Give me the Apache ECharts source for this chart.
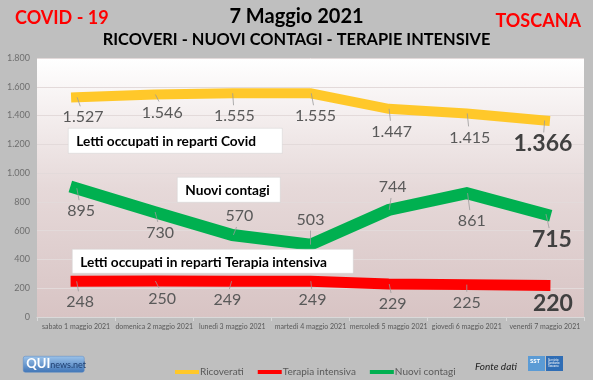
<!DOCTYPE html>
<html><head><meta charset="utf-8">
<script src="https://cdn.jsdelivr.net/npm/echarts@6/dist/echarts.min.js"></script>
<style>html,body{margin:0;padding:0;background:#bfbfbf}#c{width:593px;height:380px}</style>
</head><body><div id="c"></div>
<script>
const categories = ['sabato 1 maggio 2021','domenica 2 maggio 2021','lunedì 3 maggio 2021','martedì 4 maggio 2021','mercoledì 5 maggio 2021','giovedì 6 maggio 2021','venerdì 7 maggio 2021'];
const ricoverati = [1527, 1546, 1555, 1555, 1447, 1415, 1366];
const terapia = [248, 250, 249, 249, 229, 225, 220];
const contagi = [895, 730, 570, 503, 744, 861, 715];
const yTicks = [0, 200, 400, 600, 800, 1000, 1200, 1400, 1600, 1800];

// label offsets (layout only)
const offY = [[7,20],[8,18],[2,23],[5,23],[3,23],[3,24],[-2,23]];
const offG = [[5,23],[6,21],[7,-19],[0,-25],[4,-23],[5,28],[7,25]];
const offR = [[4,21],[8,18],[-5,19],[2,19],[4,20],[0,18],[8,18]];

const FONT = 'Lato';
function fmt(v){ v=Number(v); return v>=1000 ? Math.floor(v/1000)+'.'+String(v%1000).padStart(3,'0') : String(v); }

function mkSeries(name, data, color, width, offs){
  const last = data.length-1;
  return {
    name, type:'line', data: data.map((v,i)=> i===last ? {value:v, label:{fontSize:23, fontWeight:'bold', color:'#404040'}} : v),
    symbol:'circle', symbolSize:1, itemStyle:{color},
    lineStyle:{color, width, cap:'square', join:'miter'},
    label:{show:true, position:'inside', formatter:p=>fmt(p.value), fontFamily:FONT, fontSize:16, color:'#595959'},
    labelLayout:(p)=>({dx:offs[p.dataIndex][0], dy:offs[p.dataIndex][1]}),
    emphasis:{disabled:true}, animation:false, z:3
  };
}

// small leader lines from each point toward its label
function leaders(data, offs, skipLast){
  return {
    type:'custom', silent:true, z:4, animation:false,
    data: data.map((v,i)=>[i,v]),
    renderItem:(params, api)=>{
      const i = params.dataIndex;
      if (skipLast && i===data.length-1) return null;
      const p = api.coord([api.value(0), api.value(1)]);
      const o = offs[i], s = o[1] > 0 ? 1 : -1;
      return {type:'line', shape:{x1:p[0]+o[0]*0.15, y1:p[1], x2:p[0]+o[0]*0.6, y2:p[1]+o[1]-s*11},
        style:{stroke:'#9a9a9a', lineWidth:0.8}};
    }
  };
}

function box(x,y,w,h,txt){
  return {type:'group', left:x, top:y, z:100, children:[
    {type:'rect', z:100, shape:{x:0,y:0,width:w,height:h}, style:{fill:'#ffffff', stroke:'#d0d0d0', lineWidth:0.5}},
    {type:'text', z:101, x:8, y:h/2+1, style:{text:txt, fontFamily:FONT, fontWeight:'bold', fontSize:13.7, fill:'#000', verticalAlign:'middle'}}
  ]};
}

const chart = echarts.init(document.getElementById('c'));
chart.setOption({
  backgroundColor:'#bfbfbf',
  animation:false,
  grid:{left:37, right:9, top:58, bottom:63, show:true, borderWidth:0,
    backgroundColor:new echarts.graphic.LinearGradient(0,0,0,1,[{offset:0,color:'#ffffff'},{offset:0.5,color:'#e6d9d9'},{offset:1,color:'#d8c4c4'}])},
  xAxis:{type:'category', data:categories, boundaryGap:true,
    axisLine:{lineStyle:{color:'#d9d9d9'}}, axisTick:{show:true, length:4, lineStyle:{color:'#d9d9d9'}},
    axisLabel:{fontFamily:FONT, fontSize:7, color:'#595959', margin:6, interval:0}},
  yAxis:{type:'value', min:yTicks[0], max:yTicks[yTicks.length-1], interval:200,
    axisLine:{show:false}, axisTick:{show:false},
    splitLine:{lineStyle:{color:'#e3dada', width:1}},
    axisLabel:{fontFamily:FONT, fontSize:9, color:'#6f6f6f', margin:7, formatter:v=>fmt(v)}},
  legend:{left:170, top:362, itemWidth:24, itemHeight:4, itemGap:14, icon:'rect',
    textStyle:{fontFamily:FONT, fontSize:10, color:'#595959', padding:[0,0,0,-4]},
    data:['Ricoverati','Terapia intensiva','Nuovi contagi']},
  series:[
    mkSeries('Ricoverati', ricoverati, '#ffc82a', 10, offY),
    mkSeries('Terapia intensiva', terapia, '#ff0000', 11, offR),
    mkSeries('Nuovi contagi', contagi, '#00b050', 12, offG),
    leaders(ricoverati, offY, false),
    leaders(terapia, offR, true),
    leaders(contagi, offG, false)
  ],
  graphic:[
    {type:'text', left:15, top:9, style:{text:'COVID - 19', fontFamily:FONT, fontWeight:'bold', fontSize:18, fill:'#ff0000'}},
    {type:'text', left:'center', top:7, style:{text:'7 Maggio 2021', fontFamily:FONT, fontWeight:'bold', fontSize:20, fill:'#000'}},
    {type:'text', right:12, top:12, style:{text:'TOSCANA', fontFamily:FONT, fontWeight:'bold', fontSize:18, fill:'#ff0000'}},
    {type:'text', left:'center', top:32, style:{text:'RICOVERI - NUOVI CONTAGI - TERAPIE INTENSIVE', fontFamily:FONT, fontWeight:'bold', fontSize:16.4, fill:'#000'}},
    box(68,128,214,25,'Letti occupati in reparti Covid'),
    box(177,177,103,25,'Nuovi contagi'),
    box(72,249,281,24,'Letti occupati in reparti Terapia intensiva'),
    {type:'text', left:475, top:362, style:{text:'Fonte dati', fontFamily:FONT, fontStyle:'italic', fontSize:10, fill:'#222'}},
    {type:'group', left:23, top:356, children:[
      {type:'rect', shape:{x:0,y:0,width:61,height:16,r:2}, style:{fill:new echarts.graphic.LinearGradient(0,0,0,1,[{offset:0,color:'#9cc3ea'},{offset:1,color:'#3f74b6'}]), stroke:'#5b88c4', lineWidth:0.5}},
      {type:'text', x:3, y:8, style:{text:'QUI', fontFamily:FONT, fontWeight:'bold', fontSize:13, fill:'#ffffff', verticalAlign:'middle'}},
      {type:'text', x:27, y:9, style:{text:'news.net', fontFamily:FONT, fontSize:9, fill:'#1f3f70', verticalAlign:'middle'}}
    ]},
    {type:'group', left:528, top:356, children:[
      {type:'rect', shape:{x:0,y:0,width:17,height:15}, style:{fill:'#5b9bd5'}},
      {type:'rect', shape:{x:18,y:0,width:17,height:15}, style:{fill:'#2f6db5'}},
      {type:'text', x:2, y:5, style:{text:'SST', fontFamily:FONT, fontWeight:'bold', fontSize:6, fill:'#fff', verticalAlign:'middle'}},
      {type:'text', x:20, y:7, style:{text:'Servizio\nSanitario\nToscana', fontFamily:FONT, fontSize:3, fill:'#fff', verticalAlign:'middle'}}
    ]}
  ]
});
</script></body></html>
